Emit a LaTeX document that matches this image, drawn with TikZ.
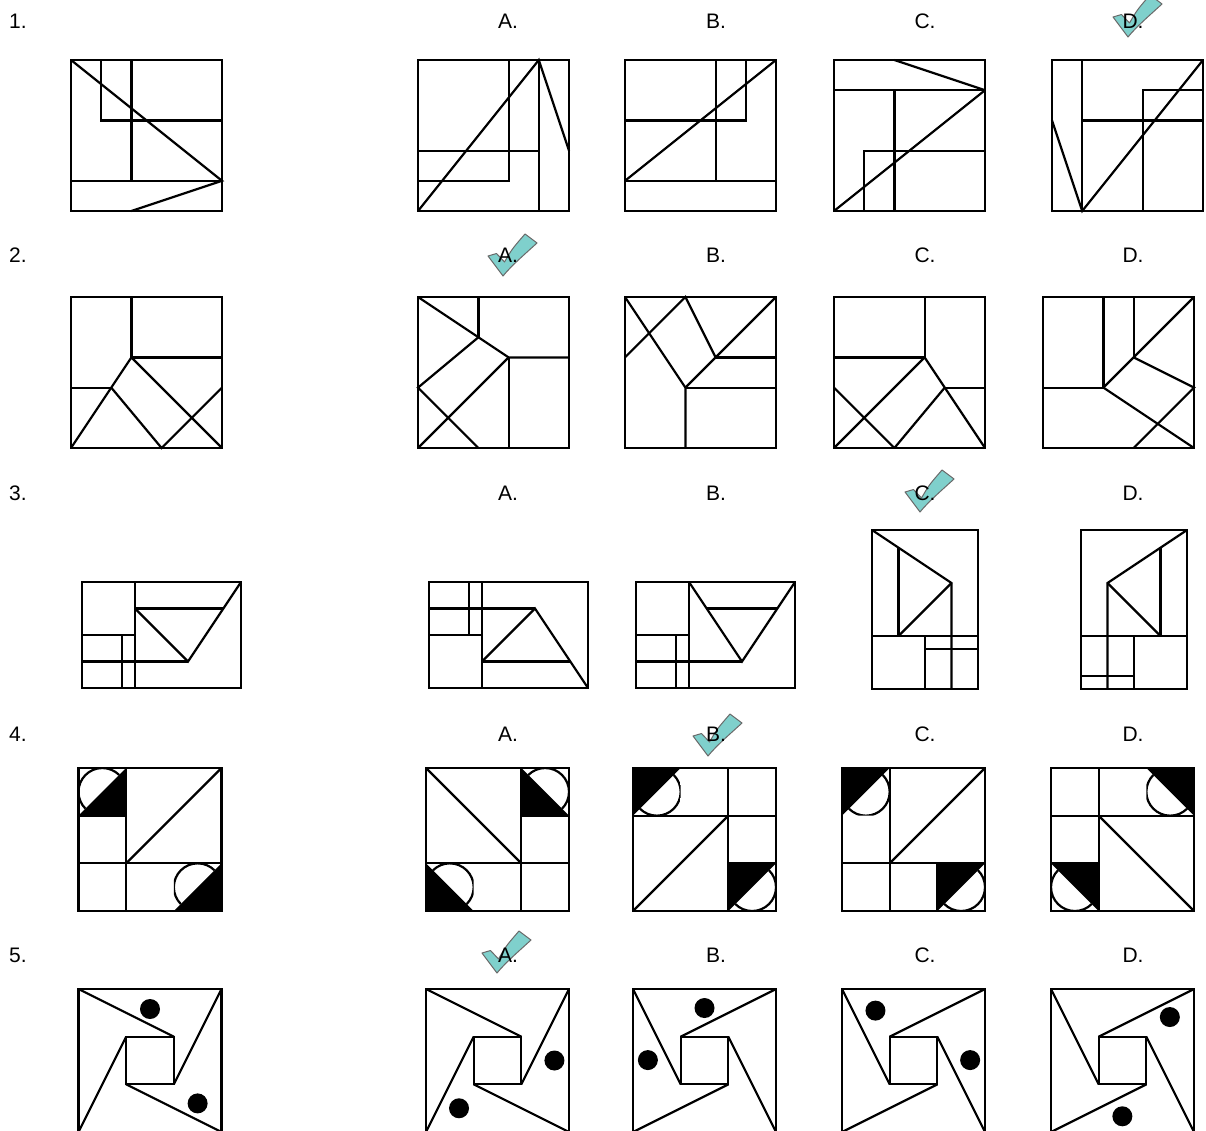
\documentclass[tikz,border=0pt]{standalone}
\usepackage{fontspec}
\setmainfont{Liberation Sans}
\definecolor{tickfill}{HTML}{7FD0CC}
\definecolor{tickline}{HTML}{6A6A6A}
\tikzset{
  fig/.style={line width=2.2pt},
  rA/.style={x=1.0067pt,y=-1.0067pt},
  rB/.style={x=26.5pt,y=-26.5pt},
  rC/.style={x=47.67pt,y=-47.67pt},
  rD/.style={x=143pt,y=-143pt},
  lbl/.style={font=\fontsize{21}{25}\selectfont, inner sep=0pt, text=black},
  dotfill/.style={fill=black},
  okmark/.pic={\filldraw[fill=tickfill, draw=tickline, line width=1pt, line join=round]
     (0,0) -- (-15,-20) -- (-6.5,-22.5) -- (1.5,-14) .. controls (9,-27) .. (22,-42) -- (34,-33) .. controls (22,-22) and (8,-10) .. (0,0) -- cycle;}
}
% half-disc cells (local unit cell 0..1, y down)
\newcommand\cellBR{\begin{scope}\clip (0,0)--(1,0)--(0,1)--cycle;\draw (0.5,0.5) circle[radius=0.5];\end{scope}\fill (1,0)--(1,1)--(0,1)--cycle;}
\newcommand\cellTL{\begin{scope}\clip (1,0)--(1,1)--(0,1)--cycle;\draw (0.5,0.5) circle[radius=0.5];\end{scope}\fill (0,0)--(1,0)--(0,1)--cycle;}
\newcommand\cellTR{\begin{scope}\clip (0,0)--(1,1)--(0,1)--cycle;\draw (0.5,0.5) circle[radius=0.5];\end{scope}\fill (0,0)--(1,0)--(1,1)--cycle;}
\newcommand\cellBL{\begin{scope}\clip (0,0)--(1,0)--(1,1)--cycle;\draw (0.5,0.5) circle[radius=0.5];\end{scope}\fill (0,0)--(1,1)--(0,1)--cycle;}
\newcommand\pinA{\draw (0,0) rectangle (1,1); \draw (1/3,1/3) rectangle (2/3,2/3);
  \draw (0,0)--(2/3,1/3); \draw (2/3,2/3)--(1,0); \draw (1/3,1/3)--(0,1); \draw (1/3,2/3)--(1,1);}
\newcommand\pinB{\draw (0,0) rectangle (1,1); \draw (1/3,1/3) rectangle (2/3,2/3);
  \draw (0,0)--(1/3,2/3); \draw (1/3,1/3)--(1,0); \draw (2/3,1/3)--(1,1); \draw (2/3,2/3)--(0,1);}
\begin{document}
\begin{tikzpicture}[x=1pt,y=-1pt]
\useasboundingbox (0,0) rectangle (1206,1130);
\fill[white] (0,0) rectangle (1206,1130);
\clip (0,0) rectangle (1206,1130);

% ---------- check marks ----------
\pic at (1128,37) {okmark};
\pic at (503,276) {okmark};
\pic at (920,512) {okmark};
\pic at (708,756) {okmark};
\pic at (497,973) {okmark};

% ---------- labels ----------
\foreach \r/\yy in {1/21,2/255,3/493,4/734,5/955}{
  \node[lbl] (n\r) at (18,\yy) {\r.};
  \node[lbl] (n\r a) at (508,\yy) {A.};
  \node[lbl] (n\r b) at (716,\yy) {B.};
  \node[lbl] (n\r c) at (925,\yy) {C.};
  \node[lbl] (n\r d) at (1133,\yy) {D.};
}

% ================= Row 1 =================
\begin{scope}[shift={(71,60)},rA,fig]
  \draw (0,0) rectangle (150,150);
  \draw (30,0)--(30,60)--(150,60);
  \draw (60,0)--(60,120);
  \draw (0,120)--(150,120);
  \draw (0,0)--(150,120)--(60,150);
\end{scope}
\begin{scope}[shift={(418,60)},rA,fig]
  \draw (0,0) rectangle (150,150);
  \draw (90,0)--(90,120)--(0,120);
  \draw (0,90)--(120,90);
  \draw (120,0)--(120,150);
  \draw (0,150)--(120,0)--(150,90);
\end{scope}
\begin{scope}[shift={(625,60)},rA,fig]
  \draw (0,0) rectangle (150,150);
  \draw (90,0)--(90,120);
  \draw (120,0)--(120,60)--(0,60);
  \draw (0,120)--(150,120);
  \draw (0,120)--(150,0);
\end{scope}
\begin{scope}[shift={(834,60)},rA,fig]
  \draw (0,0) rectangle (150,150);
  \draw (0,30)--(150,30);
  \draw (60,0)--(150,30);
  \draw (60,30)--(60,150);
  \draw (30,150)--(30,90)--(150,90);
  \draw (0,150)--(150,30);
\end{scope}
\begin{scope}[shift={(1052,60)},rA,fig]
  \draw (0,0) rectangle (150,150);
  \draw (30,0)--(30,150);
  \draw (0,60)--(30,150)--(150,0);
  \draw (30,60)--(150,60);
  \draw (90,150)--(90,30)--(150,30);
\end{scope}

% ================= Row 2 =================
\begin{scope}[shift={(71,297)},rA,fig]
  \draw (0,0) rectangle (150,150);
  \draw (60,0)--(60,60)--(150,60);
  \draw (0,90)--(40,90);
  \draw (0,150)--(60,60)--(150,150);
  \draw (40,90)--(90,150)--(150,90);
\end{scope}
\begin{scope}[shift={(418,297)},rA,fig]
  \draw (0,0) rectangle (150,150);
  \draw (60,0)--(60,40);
  \draw (0,0)--(90,60)--(150,60);
  \draw (90,60)--(90,150);
  \draw (60,40)--(0,90)--(60,150);
  \draw (90,60)--(0,150);
\end{scope}
\begin{scope}[shift={(625,297)},rA,fig]
  \draw (0,0) rectangle (150,150);
  \draw (0,0)--(60,90)--(60,150);
  \draw (60,90)--(150,90);
  \draw (60,90)--(150,0);
  \draw (90,60)--(150,60);
  \draw (90,60)--(60,0)--(0,60);
\end{scope}
\begin{scope}[shift={(834,297)},rA,fig]
  \draw (0,0) rectangle (150,150);
  \draw (90,0)--(90,60)--(0,60);
  \draw (90,60)--(0,150);
  \draw (90,60)--(150,150);
  \draw (110,90)--(150,90);
  \draw (110,90)--(60,150);
  \draw (0,90)--(60,150);
\end{scope}
\begin{scope}[shift={(1043,297)},rA,fig]
  \draw (0,0) rectangle (150,150);
  \draw (60,0)--(60,90)--(0,90);
  \draw (90,0)--(90,60);
  \draw (60,90)--(150,0);
  \draw (90,60)--(150,90)--(90,150);
  \draw (60,90)--(150,150);
\end{scope}

% ================= Row 3 =================
\begin{scope}[shift={(82,582)},rB,fig]
  \draw (0,0) rectangle (6,4);
  \draw (2,0)--(2,4);
  \draw (0,2)--(2,2);
  \draw (0,3)--(4,3);
  \draw (1.5,2)--(1.5,4);
  \draw (2,1)--(5.333,1);
  \draw (2,1)--(4,3)--(6,0);
\end{scope}
\begin{scope}[shift={(429,582)},rB,fig]
  \draw (0,0) rectangle (6,4);
  \draw (2,0)--(2,4);
  \draw (1.5,0)--(1.5,2);
  \draw (0,2)--(2,2);
  \draw (0,1)--(4,1);
  \draw (2,3)--(4,1)--(6,4);
  \draw (2,3)--(5.333,3);
\end{scope}
\begin{scope}[shift={(636,582)},rB,fig]
  \draw (0,0) rectangle (6,4);
  \draw (2,0)--(2,4);
  \draw (0,2)--(2,2);
  \draw (0,3)--(4,3);
  \draw (1.5,2)--(1.5,4);
  \draw (2,0)--(4,3)--(6,0);
  \draw (2.667,1)--(5.333,1);
\end{scope}
\begin{scope}[shift={(872,530)},rB,fig]
  \draw (0,0) rectangle (4,6);
  \draw (0,4)--(4,4);
  \draw (0,0)--(3,2)--(3,6);
  \draw (1,0.667)--(1,4);
  \draw (3,2)--(1,4);
  \draw (2,4)--(2,6);
  \draw (2,4.5)--(4,4.5);
\end{scope}
\begin{scope}[shift={(1081,530)},rB,fig]
  \draw (0,0) rectangle (4,6);
  \draw (4,0)--(1,2)--(1,6);
  \draw (1,2)--(3,4);
  \draw (3,0.667)--(3,4);
  \draw (0,4)--(4,4);
  \draw (2,4)--(2,6);
  \draw (0,5.5)--(2,5.5);
\end{scope}

% ================= Row 4 =================
\begin{scope}[shift={(78.5,768)},rC,fig]
  \begin{scope}[shift={(0,0)}]\cellBR\end{scope}
  \begin{scope}[shift={(2,2)}]\cellBR\end{scope}
  \draw (0,0) rectangle (3,3);
  \draw (1,0)--(1,3);
  \draw (0,1)--(1,1);
  \draw (0,2)--(3,2);
  \draw (1,2)--(3,0);
\end{scope}
\begin{scope}[shift={(426,768)},rC,fig]
  \begin{scope}[shift={(2,0)}]\cellBL\end{scope}
  \begin{scope}[shift={(0,2)}]\cellBL\end{scope}
  \draw (0,0) rectangle (3,3);
  \draw (2,0)--(2,3);
  \draw (2,1)--(3,1);
  \draw (0,2)--(3,2);
  \draw (0,0)--(2,2);
\end{scope}
\begin{scope}[shift={(633,768)},rC,fig]
  \begin{scope}[shift={(0,0)}]\cellTL\end{scope}
  \begin{scope}[shift={(2,2)}]\cellTL\end{scope}
  \draw (0,0) rectangle (3,3);
  \draw (0,1)--(3,1);
  \draw (2,0)--(2,3);
  \draw (2,2)--(3,2);
  \draw (0,3)--(2,1);
\end{scope}
\begin{scope}[shift={(842,768)},rC,fig]
  \begin{scope}[shift={(0,0)}]\cellTL\end{scope}
  \begin{scope}[shift={(2,2)}]\cellTL\end{scope}
  \draw (0,0) rectangle (3,3);
  \draw (1,0)--(1,3);
  \draw (0,2)--(3,2);
  \draw (2,2)--(2,3);
  \draw (1,2)--(3,0);
\end{scope}
\begin{scope}[shift={(1051,768)},rC,fig]
  \begin{scope}[shift={(2,0)}]\cellTR\end{scope}
  \begin{scope}[shift={(0,2)}]\cellTR\end{scope}
  \draw (0,0) rectangle (3,3);
  \draw (1,0)--(1,3);
  \draw (0,1)--(3,1);
  \draw (0,2)--(1,2);
  \draw (1,1)--(3,3);
\end{scope}

% ================= Row 5 =================
\begin{scope}[shift={(78.5,989)},rD,fig]
  \pinA
  \fill[dotfill] (0.5,0.14) circle[radius=10pt];
  \fill[dotfill] (0.833,0.80) circle[radius=10pt];
\end{scope}
\begin{scope}[shift={(426,989)},rD,fig]
  \pinA
  \fill[dotfill] (0.898,0.50) circle[radius=10pt];
  \fill[dotfill] (0.231,0.834) circle[radius=10pt];
\end{scope}
\begin{scope}[shift={(633,989)},rD,fig]
  \pinB
  \fill[dotfill] (0.5,0.133) circle[radius=10pt];
  \fill[dotfill] (0.104,0.497) circle[radius=10pt];
\end{scope}
\begin{scope}[shift={(842,989)},rD,fig]
  \pinB
  \fill[dotfill] (0.234,0.151) circle[radius=10pt];
  \fill[dotfill] (0.896,0.497) circle[radius=10pt];
\end{scope}
\begin{scope}[shift={(1051,989)},rD,fig]
  \pinB
  \fill[dotfill] (0.831,0.196) circle[radius=10pt];
  \fill[dotfill] (0.499,0.89) circle[radius=10pt];
\end{scope}
\end{tikzpicture}
\end{document}
